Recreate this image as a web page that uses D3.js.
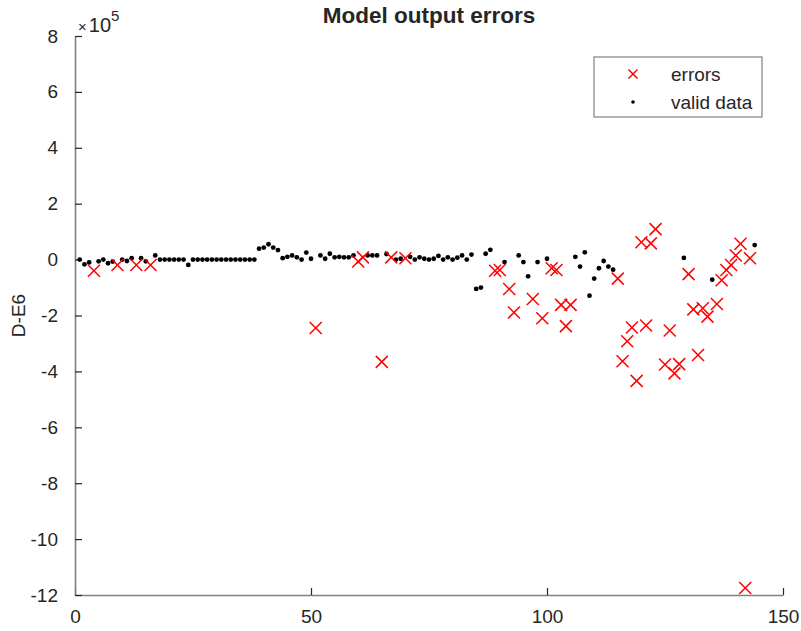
<!DOCTYPE html>
<html>
<head>
<meta charset="utf-8">
<script src="https://cdnjs.cloudflare.com/ajax/libs/d3/7.8.5/d3.min.js"></script>
<style>
	body { margin:0; background:#fff; }
	text { font-family: "Liberation Sans", Arial, sans-serif; fill:#262626; }
</style>
</head>
<body>
<div class="chart-container"></div>
<script>
/// data (values in units of 1e5)
var validIdx = [1,2,3,5,6,7,8,10,11,12,14,15,17,18,19,20,21,22,23,24,
	25,26,27,28,29,30,31,32,33,34,35,36,37,38,39,40,41,42,43,44,45,46,47,48,49,50,
	52,53,54,55,56,57,58,59,62,63,64,66,68,69,71,72,73,74,75,76,77,78,79,80,81,82,83,84,
	85,86,87,88,91,94,95,96,98,100,106,107,108,109,110,111,112,113,114,129,135,144];
var validVal = [0,-0.17,-0.1,-0.06,0,-0.13,-0.07,0,-0.05,0.05,0.05,-0.06,0.15,0,0,0,0,0,0,-0.19,
	0,0,0,0,0,0,0,0,0,0,0,0,0,0,0.39,0.43,0.55,0.43,0.34,0.05,0.1,0.15,0.08,0,0.25,0.03,
	0.15,0.03,0.21,0.08,0.1,0.08,0.08,0.15,0.15,0.15,0.15,0.2,0,0.03,0.1,0,0.08,0.03,0,0.03,0.13,0,0.08,0,0.07,0.15,0,0.18,
	-1.05,-1.0,0.21,0.35,-0.09,0.15,-0.09,-0.6,-0.09,0.03,0.1,-0.25,0.26,-1.29,-0.68,-0.31,-0.05,-0.25,-0.36,0.06,-0.72,0.52];

var errorIdx = [4,9,13,16,51,60,61,65,67,70,89,90,92,93,97,99,101,102,103,104,105,
	115,116,117,118,119,120,121,122,123,125,126,127,128,130,131,132,133,134,136,137,138,139,140,141,142,143];
var errorVal = [-0.4,-0.19,-0.19,-0.19,-2.45,-0.07,0.08,-3.66,0.08,0.05,-0.4,-0.37,-1.05,-1.89,-1.41,-2.1,-0.31,-0.37,-1.62,-2.38,-1.62,
	-0.68,-3.64,-2.92,-2.43,-4.34,0.62,-2.36,0.58,1.09,-3.75,-2.54,-4.07,-3.74,-0.52,-1.78,-3.41,-1.74,-2.04,-1.59,-0.74,-0.37,-0.19,0.15,0.57,-11.75,0.05];

var xTicks = [0,50,100,150];
var yTicks = [-12,-10,-8,-6,-4,-2,0,2,4,6,8];
var legendLabels = ['errors','valid data'];

var margin = {top:36,right:18,bottom:36,left:75},
	width = 801 - margin.left - margin.right,
	height = 631 - margin.top - margin.bottom;

var svg = d3.select('.chart-container').append('svg')
	.attr('width',801)
	.attr('height',631);

var x = d3.scaleLinear().domain([0,150]).range([0,width]),
	y = d3.scaleLinear().domain([-12,8]).range([height,0]);

var g = svg.append('g')
	.attr('transform','translate(' + margin.left + ',' + margin.top + ')');

// plain hyphen like matlab, not the unicode minus
var plain = function(d){ return String(d); };

/// axes
var xAxis = g.append('g')
	.attr('class','axis axis--x')
	.attr('transform','translate(0,' + height + ')')
	.call(d3.axisBottom(x).tickValues(xTicks).tickFormat(plain).tickSize(-7).tickPadding(15).tickSizeOuter(0));

var yAxis = g.append('g')
	.attr('class','axis axis--y')
	.call(d3.axisLeft(y).tickValues(yTicks).tickFormat(plain).tickSize(-7).tickPadding(17).tickSizeOuter(0));

svg.selectAll('.axis .domain').style('stroke','#808080').style('stroke-width',1.6);
svg.selectAll('.axis .tick line').style('stroke','#262626').style('stroke-width',1.2);
svg.selectAll('.axis text')
	.style('font-size','19px')
	.style('font-family','"Liberation Sans", Arial, sans-serif')
	.attr('fill','#262626');
xAxis.selectAll('text').attr('dy','0.71em');

/// multiplier
var mult = svg.append('text')
	.attr('x',margin.left + 3)
	.attr('y',margin.top - 4);
mult.append('tspan').style('font-size','15px').text('\u00d7');
mult.append('tspan').style('font-size','20px').attr('dx',2).text('10');
mult.append('tspan').attr('dy',-11).style('font-size','15px').text('5');

/// title and label
svg.append('text')
	.attr('x',margin.left + width/2)
	.attr('y',23)
	.style('text-anchor','middle')
	.style('font-size','22.5px')
	.style('font-weight','bold')
	.text('Model output errors');

svg.append('text')
	.attr('transform','rotate(-90)')
	.attr('x',-(margin.top + height/2))
	.attr('y',25)
	.style('text-anchor','middle')
	.style('font-size','19px')
	.text('D-E6');

/// marks
g.selectAll('.dot')
	.data(validIdx)
	.enter().append('circle')
	.attr('class','dot')
	.attr('cx',function(d){ return x(d); })
	.attr('cy',function(d,i){ return y(validVal[i]); })
	.attr('r',2.4)
	.attr('fill','#000');

var cross = function(sel, s) {
	sel.append('line').attr('x1',-s).attr('y1',-s).attr('x2',s).attr('y2',s);
	sel.append('line').attr('x1',-s).attr('y1',s).attr('x2',s).attr('y2',-s);
	sel.selectAll('line').style('stroke','#ff0000').style('stroke-width',1.5);
};

g.selectAll('.err')
	.data(errorIdx)
	.enter().append('g')
	.attr('class','err')
	.attr('transform',function(d,i){ return 'translate(' + x(d) + ',' + y(errorVal[i]) + ')'; })
	.call(cross, 6);

/// legend
var legend = svg.append('g')
	.attr('transform','translate(594,57)');

legend.append('rect')
	.attr('width',168)
	.attr('height',60)
	.attr('fill','#fff')
	.style('stroke','#808080')
	.style('stroke-width',1.2);

legend.append('g')
	.attr('transform','translate(39,17)')
	.call(cross, 4.5);

legend.append('circle')
	.attr('cx',39)
	.attr('cy',45)
	.attr('r',1.8)
	.attr('fill','#000');

legend.selectAll('.leg-label')
	.data(legendLabels)
	.enter().append('text')
	.attr('class','leg-label')
	.attr('x',77)
	.attr('y',function(d,i){ return 24 + i*28; })
	.style('font-size','19px')
	.text(function(d){ return d; });
</script>
</body>
</html>
